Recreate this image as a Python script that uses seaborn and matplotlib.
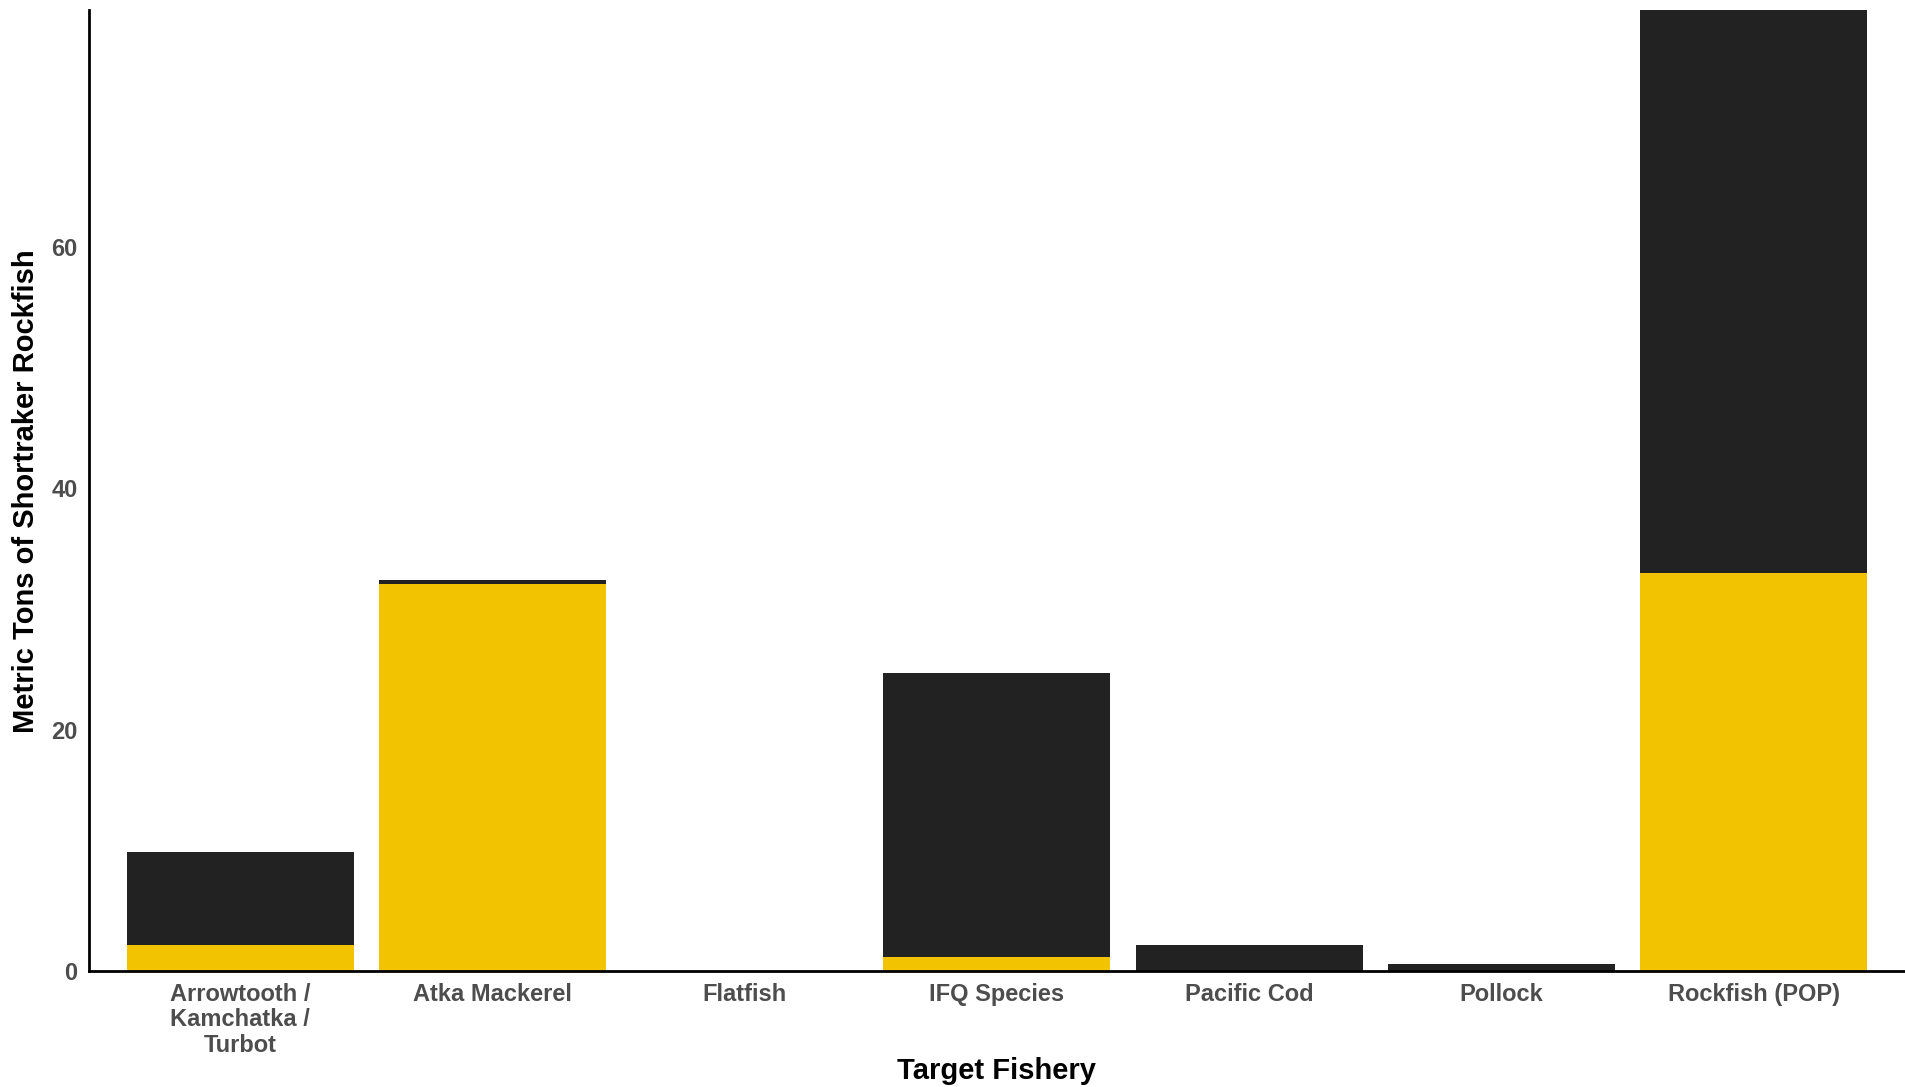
import numpy as np
import pandas as pd
import matplotlib
matplotlib.use("Agg")
import matplotlib.pyplot as plt
import seaborn as sns

# Data (metric tons)
fisheries = ["Arrowtooth /\nKamchatka /\nTurbot", "Atka Mackerel", "Flatfish",
             "IFQ Species", "Pacific Cod", "Pollock", "Rockfish (POP)"]
yellow_tons = [2.2, 32.1, 0.0, 1.2, 0.0, 0.0, 33.0]
dark_tons = [7.7, 0.3, 0.0, 23.5, 2.2, 0.6, 46.6]

yellow = "#F2C300"
dark = "#222222"

sns.set_style("white")
plt.rcParams['font.family'] = ['Liberation Sans', 'DejaVu Sans']

df = pd.DataFrame({
    "fishery": fisheries,
    "yellow": yellow_tons,
    "dark": dark_tons,
})
df["total"] = df["yellow"] + df["dark"]

fig = plt.figure(figsize=(19.05, 10.87), dpi=100)
ax = fig.add_axes([0.0466, 0.1063, 0.9534, 0.8845])

# stacked bars: total first (dark), then the yellow part on top of it
sns.barplot(data=df, x="fishery", y="total", color=dark, saturation=1,
            width=0.9, ax=ax, edgecolor="none")
sns.barplot(data=df, x="fishery", y="yellow", color=yellow, saturation=1,
            width=0.9, ax=ax, edgecolor="none")

ax.set_xlim(-0.6, len(fisheries) - 0.4)
ax.set_ylim(0, df["total"].max())
ax.set_yticks([0, 20, 40, 60])

for side in ["top", "right"]:
    ax.spines[side].set_visible(False)
for side in ["left", "bottom"]:
    ax.spines[side].set_linewidth(2)
    ax.spines[side].set_color("black")

ax.tick_params(axis="both", length=5, width=1.5, color="#4D4D4D",
               labelcolor="#4D4D4D", labelsize=17, pad=3)
for lbl in ax.get_xticklabels() + ax.get_yticklabels():
    lbl.set_fontweight("bold")
for lbl in ax.get_xticklabels():
    lbl.set_linespacing(1.15)

ax.set_xlabel("Target Fishery", fontsize=21, fontweight="bold", color="black")
ax.xaxis.label.set_va("center")
ax.xaxis.set_label_coords(0.5233, 0.0145, transform=fig.transFigure)
ax.set_ylabel("Metric Tons of Shortraker Rockfish", fontsize=21,
              fontweight="bold", color="black", labelpad=8)
ax.grid(False)

fig.savefig("out.png", dpi=100)
